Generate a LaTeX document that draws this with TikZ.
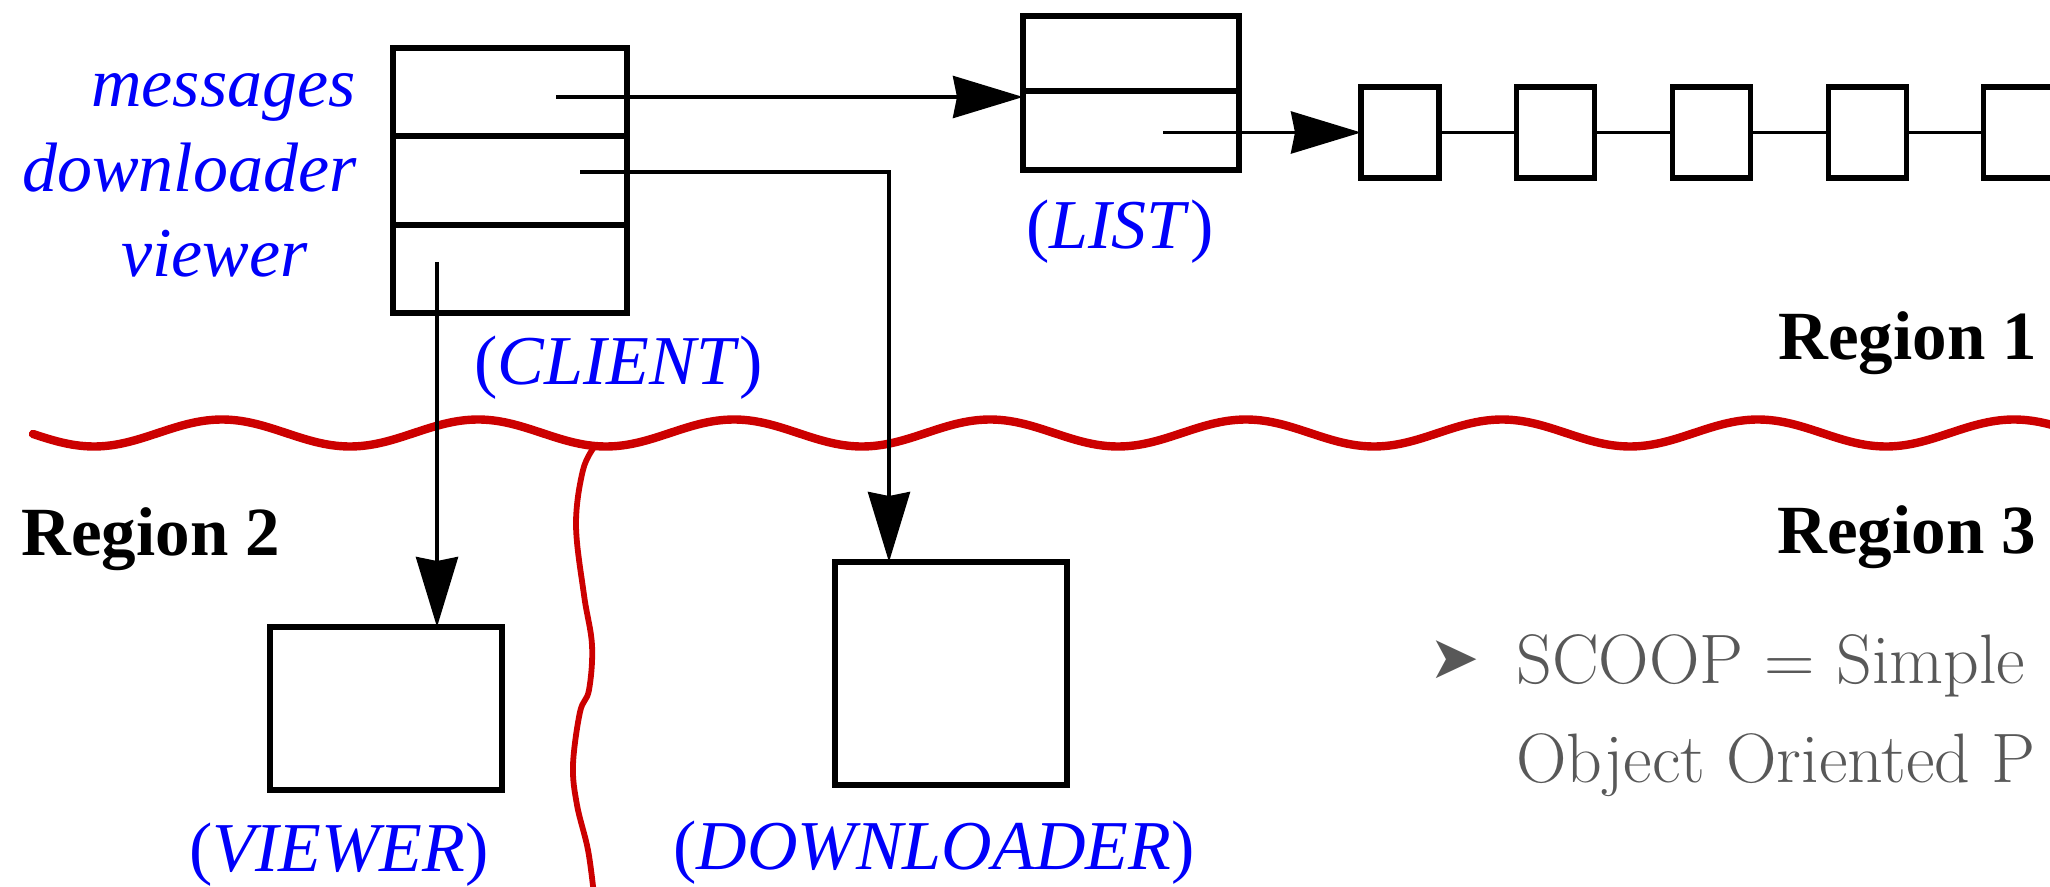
\documentclass[tikz,border=0pt]{standalone}
\usepackage{fontspec}
\newfontfamily\lib{Liberation Serif}[UprightFont=*,ItalicFont=* Italic,BoldFont=* Bold]
\newfontfamily\djv{DejaVu Sans}
\usetikzlibrary{arrows.meta}
\definecolor{wavered}{RGB}{204,0,0}
\definecolor{lblue}{RGB}{0,0,250}
\definecolor{txtgray}{RGB}{88,88,88}
\begin{document}
\begin{tikzpicture}[x=0.5pt,y=-0.5pt,
  box/.style={draw,line width=2.6pt,inner sep=0pt,outer sep=0pt},
  ptr/.style={line width=1.9pt,-{Stealth[length=35pt,width=21pt,inset=2pt]}},
  link/.style={line width=1.9pt},
  lbl/.style={inner sep=0pt,text=lblue,font=\lib\fontsize{35pt}{40pt}\selectfont\itshape},
  cls/.style={inner sep=0pt,text=lblue,font=\lib\fontsize{35pt}{40pt}\selectfont},
  reg/.style={inner sep=0pt,font=\lib\fontsize{34.5pt}{40pt}\selectfont\bfseries},
  scoop/.style={inner sep=0pt,text=txtgray,font=\fontsize{35pt}{40pt}\selectfont},
  wave/.style={draw=wavered,line width=4.2pt,line cap=round},
  redv/.style={draw=wavered,line width=2.9pt,line cap=round}]
\useasboundingbox (0,0) rectangle (2050,887);
\fill[white] (0,0) rectangle (2050,887);
\clip (0,0) rectangle (2050,887);

% red boundaries
\draw[wave] plot[domain=33:2070,samples=260,smooth] (\x,{433-13.5*cos(1.40625*(\x-222))});
\draw[redv] plot[smooth,tension=0.6] coordinates {(595,446) (583,470) (576,525) (584,595) (592,645) (589,690) (580,712) (573,765) (577,805) (588,850) (594,895)};

% CLIENT object
\node[box,minimum width=117pt,minimum height=44pt] (cl1) at (510,92) {};
\node[box,minimum width=117pt,minimum height=44.5pt] (cl2) at (510,180.5) {};
\node[box,minimum width=117pt,minimum height=44pt] (cl3) at (510,269) {};

% LIST object
\node[box,minimum width=108pt,minimum height=37.5pt] (ls1) at (1131,53.5) {};
\node[box,minimum width=108pt,minimum height=39.5pt] (ls2) at (1131,130.5) {};

% list elements
\foreach \i/\cx in {1/1400,2/1555.7,3/1711.4,4/1867.1,5/2022.8}{
  \node[box,minimum width=39pt,minimum height=45.5pt] (e\i) at (\cx,132.5) {};
}
\draw[link] (e1.east) -- (e2.west);
\draw[link] (e2.east) -- (e3.west);
\draw[link] (e3.east) -- (e4.west);
\draw[link] (e4.east) -- (e5.west);

% VIEWER and DOWNLOADER objects
\node[box,minimum width=116pt,minimum height=81.5pt] (vw) at (386,708.5) {};
\node[box,minimum width=116pt,minimum height=111.5pt] (dl) at (951,673.5) {};

% pointers
\coordinate (mp) at (556,97);
\coordinate (dp) at (580,172);
\coordinate (dc) at (889,172);
\coordinate (vp) at (437,262);
\coordinate (lp) at (1163,132.5);
\draw[ptr] (mp) -- (mp -| ls1.west);
\draw[ptr] (lp) -- (e1.west);
\draw[ptr] (dp) -- (dc) -- (dc |- dl.north);
\draw[ptr] (vp) -- (vp |- vw.north);

% labels
\node[lbl,anchor=base east] (tm) at (356,107) {messages};
\node[lbl,anchor=base east] (td) at (357,192) {downloader};
\node[lbl,anchor=base east] (tv) at (308,277) {viewer};
\node[cls,anchor=base west] (tcl) at (474,385) {(\textit{CLIENT})};
\node[cls,anchor=base west] (tls) at (1026,249) {(\textit{LIST})};
\node[cls,anchor=base west] (tvw) at (189,871) {(\textit{VIEWER})};
\node[cls,anchor=base west] (tdl) at (673,869) {(\textit{DOWNLOADER})};

\node[reg,anchor=base west] (r1) at (1778,360) {Region 1};
\node[reg,anchor=base west] (r2) at (21,555) {Region 2};
\node[reg,anchor=base west] (r3) at (1777,553) {Region 3};

% SCOOP text
\node[inner sep=0pt,text=txtgray,font=\djv\fontsize{30pt}{34pt}\selectfont,anchor=base west] (bul) at (1429,678) {➤};
\node[scoop,anchor=base west] (s1) at (1516,683) {SCOOP = Simple};
\node[scoop,anchor=base west] (s2) at (1516,782) {Object Oriented P};
\end{tikzpicture}
\end{document}
